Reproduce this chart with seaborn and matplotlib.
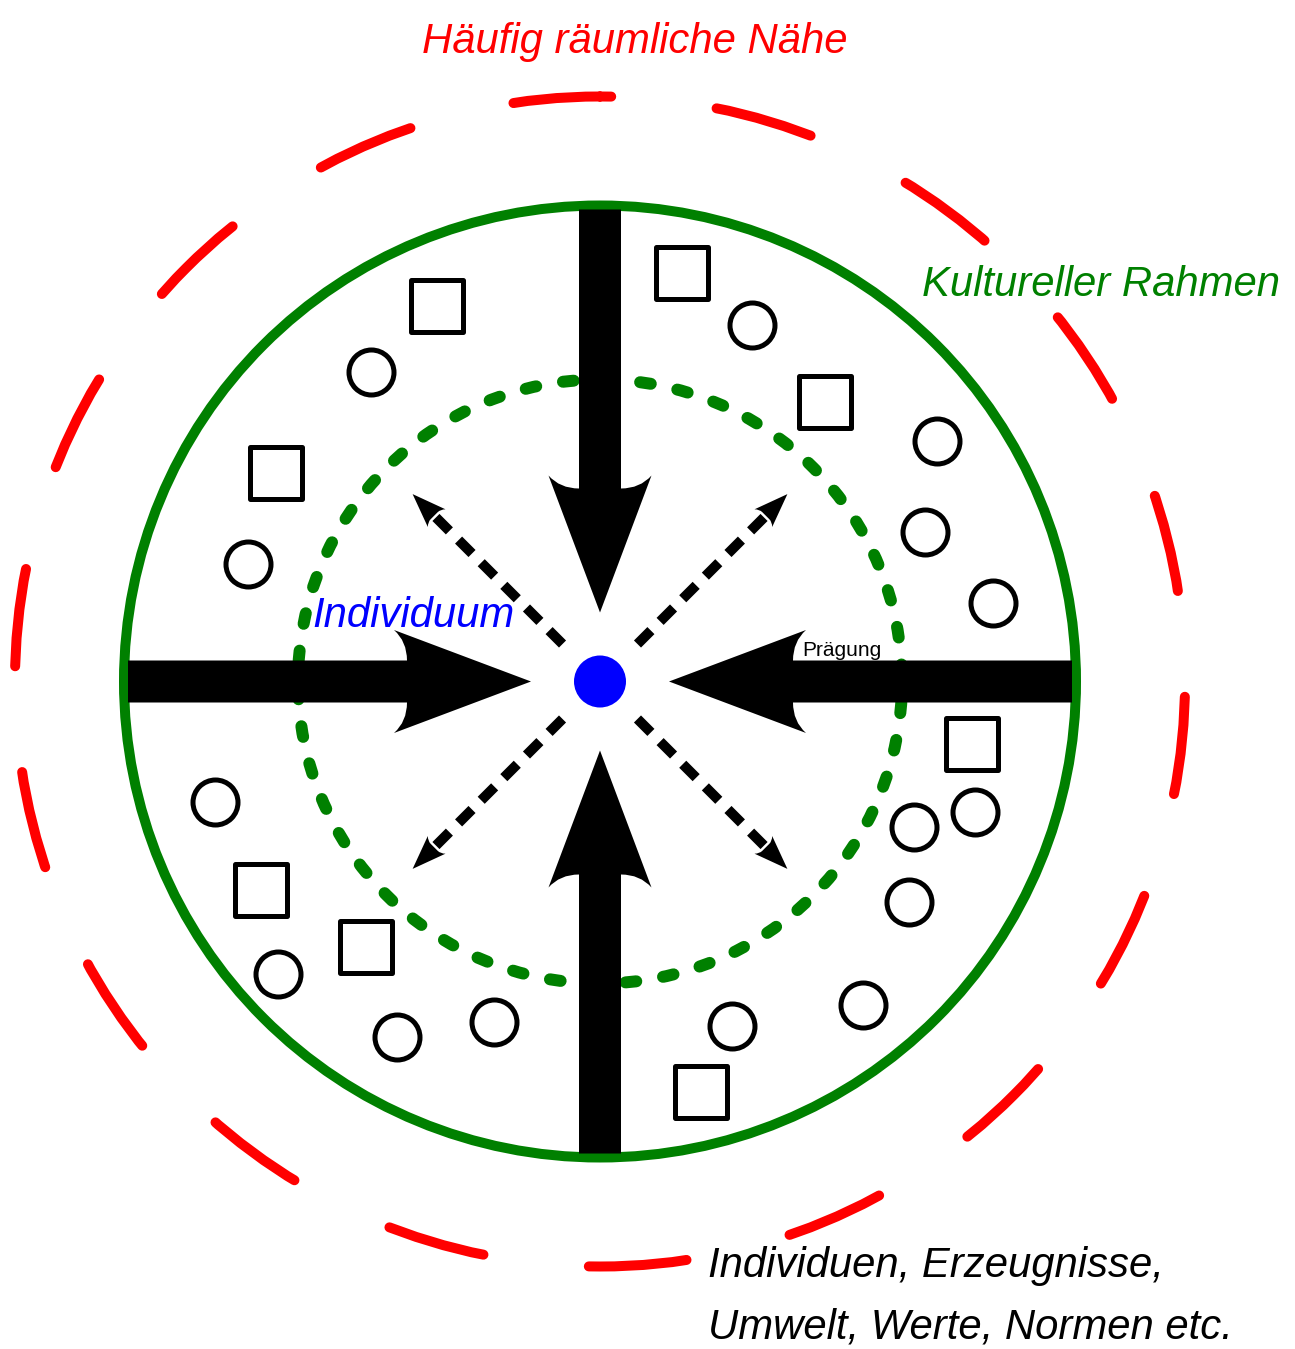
import numpy as np
import pandas as pd
import matplotlib.pyplot as plt
import seaborn as sns
from matplotlib.patches import Circle, PathPatch
from matplotlib.path import Path

sns.set_theme(style="white")

# Mittelpunkt des Schemas (Pixel, y nach unten)
center = (600, 681.5)

# Ringe
r_raum = 585        # rot, gestrichelt
r_kultur = 476      # gruen, durchgezogen
r_praegung = 302    # gruen, gepunktet

# Quadrate und Kreise
square_x = [437, 276, 682, 825, 972, 261, 366, 701]
square_y = [306, 473, 273, 402, 744, 890, 947, 1092]
circle_x = [371, 248, 752, 937, 925, 993, 215, 914, 975, 909, 278, 397, 494, 732, 863]
circle_y = [372, 564, 325, 441, 532, 603, 802, 827, 812, 902, 974, 1037, 1022, 1026, 1005]

# Pfeilrichtungen (Grad, vom Zentrum aus gesehen)
big_arrow_angles = [270, 180, 0, 90]
small_arrow_angles = [225, 315, 135, 45]

labels = {
    'raum': 'Häufig räumliche Nähe',
    'kultur': 'Kultureller Rahmen',
    'ich': 'Individuum',
    'praeg': 'Prägung',
    'umwelt1': 'Individuen, Erzeugnisse,',
    'umwelt2': 'Umwelt, Werte, Normen etc.',
}

RED, GREEN, BLUE = '#ff0000', '#008000', '#0000ff'

plt.rcParams['font.family'] = ['Liberation Sans', 'DejaVu Sans']

fig = plt.figure(figsize=(12.95, 13.49), dpi=100)
ax = fig.add_axes([0, 0, 1, 1])


def to_xy(d, w, ang):
    a = np.deg2rad(ang)
    ux, uy = np.cos(a), np.sin(a)
    return center[0] + d * ux - w * uy, center[1] + d * uy + w * ux


def make_path(pts, ang):
    verts = [to_xy(d, w, ang) for d, w, _ in pts]
    codes = [c for _, _, c in pts]
    return Path(verts, codes)


M, L, C3, CL = Path.MOVETO, Path.LINETO, Path.CURVE3, Path.CLOSEPOLY
big_shape = [(472, -21, M), (193, -21, L), (193, -40, C3), (206, -51.5, C3),
             (69, 0, L), (206, 51.5, L), (193, 40, C3), (193, 21, C3),
             (472, 21, L), (472, -21, CL)]
small_head = [(234.5, -5, M), (234.5, -9, C3), (231, -12.5, C3), (265, 0, L),
              (231, 12.5, L), (234.5, 9, C3), (234.5, 5, C3), (234.5, -5, CL)]

# Ringe
ax.add_patch(Circle(center, r_raum, fill=False, ec=RED, lw=7.2,
                    linestyle=(8.68, (9.8, 10.62)), capstyle='round', zorder=1))
ax.add_patch(Circle(center, r_kultur, fill=False, ec=GREEN, lw=7.2, zorder=1))
ax.add_patch(Circle(center, r_praegung, fill=False, ec=GREEN, lw=8.64,
                    linestyle=(2.967, (0.9, 2.26)), capstyle='round', zorder=1))

# Quadrate und Kreise
sq = pd.DataFrame({'x': square_x, 'y': square_y})
ci = pd.DataFrame({'x': circle_x, 'y': circle_y})
sns.scatterplot(data=sq, x='x', y='y', marker='s', s=37.4 ** 2, color='white',
                edgecolor='black', linewidth=3.6, ax=ax, zorder=3)
sns.scatterplot(data=ci, x='x', y='y', marker='o', s=32.4 ** 2, color='white',
                edgecolor='black', linewidth=3.6, ax=ax, zorder=3)

# grosse Pfeile nach innen
for ang in big_arrow_angles:
    ax.add_patch(PathPatch(make_path(big_shape, ang), fc='black', ec='none', zorder=4))

# gestrichelte Pfeile nach aussen
for ang in small_arrow_angles:
    x0, y0 = to_xy(53, 0, ang)
    x1, y1 = to_xy(236, 0, ang)
    ax.plot([x0, x1], [y0, y1], color='black', lw=7.2, linestyle=(0, (1.9, 1.3)),
            dash_capstyle='butt', zorder=4)
    ax.add_patch(PathPatch(make_path(small_head, ang), fc='black', ec='none', zorder=4))

ax.add_patch(Circle(center, 26, fc=BLUE, ec='none', zorder=5))

# Beschriftungen
big_font = dict(fontsize=30.2, style='italic', family=['Liberation Sans', 'DejaVu Sans'],
                va='baseline', ha='left', zorder=6)
ax.text(422, 53, labels['raum'], color=RED, **big_font)
ax.text(922, 296, labels['kultur'], color=GREEN, **big_font)
ax.text(312, 627, labels['ich'], color=BLUE, **big_font)
ax.text(708, 1277, labels['umwelt1'], color='black', **big_font)
ax.text(708, 1338, labels['umwelt2'], color='black', **big_font)
ax.text(802, 656, labels['praeg'], color='black', fontsize=15, va='baseline',
        ha='left', family=['Liberation Sans', 'DejaVu Sans'], zorder=6)

ax.set_xlim(0, 1295)
ax.set_ylim(1349, 0)
ax.axis('off')

fig.savefig('out.png', dpi=100)
